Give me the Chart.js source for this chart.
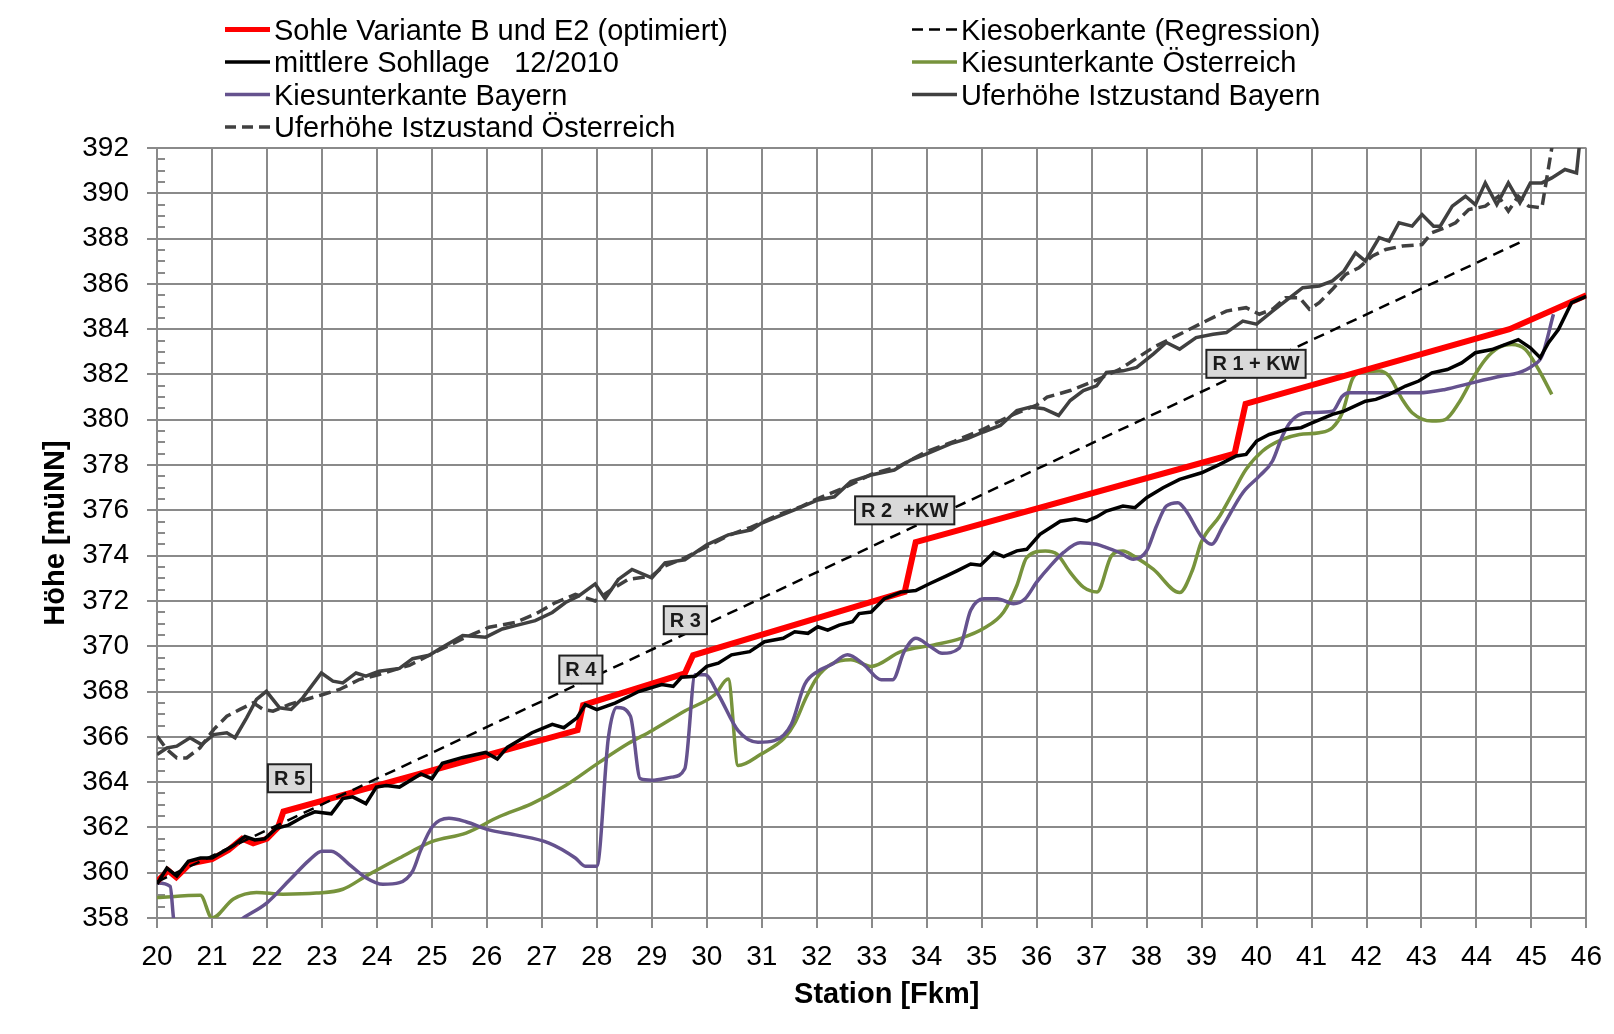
<!DOCTYPE html>
<html lang="de">
<head>
<meta charset="UTF-8" />
<title>Sohllage Fkm 20 - 46</title>
<script src="https://cdn.jsdelivr.net/npm/chart.js"></script>
<style>
  body { margin: 0; background: #fff; }
  #wrap { width: 1614px; height: 1034px; }
</style>
</head>
<body>
<div id="wrap"><canvas id="profil"></canvas></div>
<script>
// Sohle Variante B und E2 (optimiert)
const sohleKm = [20, 20.2, 20.35, 20.6, 21.0, 21.3, 21.55, 21.75, 22.0, 22.2, 22.3, 27.65, 27.75, 29.6, 29.75, 33.6, 33.8, 39.6, 39.8, 44.6, 46];
const sohle = [359.6, 360.1, 359.8, 360.4, 360.6, 361.0, 361.5, 361.3, 361.5, 362.0, 362.7, 366.3, 367.4, 368.8, 369.6, 372.4, 374.6, 378.5, 380.7, 384.0, 385.5];

// mittlere Sohllage 12/2010
const mittelKm = [20.0, 20.18, 20.36, 20.57, 20.79, 21.0, 21.18, 21.39, 21.6, 21.78, 21.96, 22.17, 22.39, 22.66, 22.87, 23.17, 23.38, 23.56, 23.8, 23.99,
  24.17, 24.41, 24.8, 25.0, 25.19, 25.56, 25.98, 26.19, 26.37, 26.52, 26.82, 27.19, 27.4, 27.64, 27.79, 28.0, 28.33, 28.58, 28.76, 29.18,
  29.39, 29.54, 29.79, 30.0, 30.21, 30.45, 30.78, 31.05, 31.39, 31.6, 31.84, 32.02, 32.2, 32.41, 32.65, 32.77, 32.99, 33.23, 33.53, 33.8,
  34.04, 34.37, 34.56, 34.8, 34.98, 35.22, 35.4, 35.64, 35.82, 36.06, 36.43, 36.7, 36.91, 37.09, 37.27, 37.57, 37.79, 38.0, 38.3, 38.6,
  39.0, 39.33, 39.63, 39.81, 40.0, 40.23, 40.53, 40.81, 41.02, 41.38, 41.59, 41.98, 42.17, 42.41, 42.71, 42.95, 43.19, 43.47, 43.73, 43.98,
  44.28, 44.52, 44.76, 44.98, 45.16, 45.31, 45.49, 45.73, 46.0];
const mittel = [359.5, 360.2, 359.85, 360.5, 360.65, 360.65, 360.9, 361.2, 361.6, 361.45, 361.5, 361.96, 362.1, 362.47, 362.69, 362.6, 363.27, 363.35, 363.05, 363.78,
  363.85, 363.78, 364.36, 364.15, 364.83, 365.09, 365.31, 365.02, 365.53, 365.75, 366.18, 366.55, 366.4, 366.84, 367.42, 367.2, 367.49, 367.78, 368.0, 368.31,
  368.23, 368.63, 368.67, 369.11, 369.25, 369.62, 369.76, 370.2, 370.35, 370.64, 370.57, 370.86, 370.71, 370.93, 371.08, 371.44, 371.51, 372.1, 372.39, 372.46,
  372.75, 373.12, 373.34, 373.63, 373.58, 374.14, 373.96, 374.21, 374.28, 374.94, 375.52, 375.62, 375.52, 375.71, 375.97, 376.19, 376.12, 376.56, 377.0, 377.37,
  377.66, 378.03, 378.4, 378.47, 379.06, 379.35, 379.57, 379.65, 379.87, 380.24, 380.38, 380.82, 380.9, 381.12, 381.49, 381.71, 382.07, 382.22, 382.51, 382.96,
  383.1, 383.32, 383.54, 383.18, 382.74, 383.4, 383.98, 385.17, 385.45];

// Kiesoberkante (Regression)
const kiesObKm = [20, 44.85];
const kiesOb = [359.6, 387.9];

// Kiesunterkante Österreich
const kiesUnAtKm = [20.0, 20.79, 21.0, 21.39, 21.81, 22.29, 22.9, 23.38, 23.8, 24.41, 25.01, 25.62, 26.22, 26.82, 27.43, 28.03, 28.57, 29.0, 29.6, 30.15,
  30.39, 30.57, 30.99, 31.42, 31.6, 31.8, 32.0, 32.26, 32.62, 32.99, 33.53, 34.13, 34.62, 35.04, 35.4, 35.64, 35.82, 36.16, 36.37, 36.61,
  36.85, 37.1, 37.36, 37.57, 37.76, 38.12, 38.6, 38.84, 38.99, 39.33, 39.57, 39.81, 40.11, 40.47, 40.78, 41.14, 41.38, 41.56, 41.74, 41.86,
  42.23, 42.41, 42.65, 42.83, 43.19, 43.43, 43.68, 43.92, 44.16, 44.4, 44.64, 44.89, 45.13, 45.37];
const kiesUnAt = [358.9, 359.0, 358.0, 358.84, 359.13, 359.05, 359.1, 359.27, 359.85, 360.65, 361.38, 361.75, 362.47, 363.05, 363.85, 364.85, 365.7, 366.27, 367.14, 367.87,
  368.55, 364.73, 365.24, 365.97, 366.6, 367.7, 368.6, 369.2, 369.4, 369.11, 369.76, 370.06, 370.35, 370.79, 371.51, 372.68, 373.92, 374.21, 374.07, 373.26,
  372.61, 372.4, 373.99, 374.21, 373.99, 373.4, 372.37, 373.4, 374.57, 375.75, 376.78, 377.81, 378.62, 379.13, 379.35, 379.43, 379.65, 380.31, 381.78, 382.07,
  382.15, 381.93, 380.9, 380.31, 379.94, 380.01, 380.75, 381.78, 382.66, 383.18, 383.32, 383.1, 382.22, 381.12];

// Kiesunterkante Bayern
const kiesUnByKm = [20.0, 20.24, 20.3, 20.45, 21.0, 21.57, 22.0, 22.42, 22.78, 23.0, 23.17, 23.5, 23.8, 24.11, 24.41, 24.65, 24.8, 25.01, 25.31, 25.62,
  26.04, 26.52, 27.13, 27.61, 27.79, 28.0, 28.21, 28.36, 28.61, 28.79, 29.0, 29.36, 29.6, 29.79, 29.97, 30.21, 30.57, 30.93, 31.23, 31.54,
  31.78, 32.02, 32.26, 32.56, 32.86, 33.17, 33.38, 33.59, 33.8, 34.07, 34.28, 34.59, 34.8, 35.04, 35.28, 35.58, 35.79, 36.0, 36.25, 36.49,
  36.79, 37.09, 37.27, 37.51, 37.76, 38.0, 38.18, 38.36, 38.57, 38.72, 38.99, 39.18, 39.39, 39.75, 40.05, 40.29, 40.47, 40.63, 40.9, 41.38,
  41.56, 41.68, 42.35, 42.95, 43.43, 43.92, 44.46, 44.76, 45.01, 45.19, 45.4];
const kiesUnBy = [359.55, 359.4, 358.0, 355.5, 357.0, 358.0, 358.67, 359.7, 360.58, 360.95, 360.95, 360.36, 359.78, 359.49, 359.56, 360.07, 361.02, 362.04, 362.4, 362.25,
  361.89, 361.67, 361.31, 360.65, 360.29, 360.29, 365.96, 367.3, 366.92, 364.15, 364.08, 364.22, 364.59, 368.74, 368.74, 367.87, 366.27, 365.76, 365.83, 366.56,
  368.31, 368.89, 369.18, 369.62, 369.18, 368.52, 368.52, 369.76, 370.35, 369.98, 369.69, 369.91, 371.59, 372.1, 372.1, 371.88, 372.1, 372.83, 373.55, 374.14,
  374.57, 374.5, 374.35, 374.13, 373.84, 374.21, 375.31, 376.19, 376.34, 375.97, 374.87, 374.5, 375.31, 376.78, 377.51, 378.18, 379.28, 379.94, 380.31, 380.38,
  381.04, 381.19, 381.19, 381.19, 381.34, 381.63, 381.93, 382.07, 382.37, 382.81, 384.66];

// Uferhöhe Istzustand Bayern
const uferByKm = [20.0, 20.18, 20.36, 20.6, 20.81, 21.03, 21.27, 21.42, 21.63, 21.81, 21.99, 22.23, 22.44, 22.65, 22.99, 23.2, 23.38, 23.62, 23.8, 24.04,
  24.41, 24.65, 24.95, 25.19, 25.56, 25.98, 26.28, 26.52, 26.88, 27.19, 27.43, 27.67, 27.97, 28.15, 28.39, 28.64, 29.0, 29.24, 29.6, 30.0,
  30.39, 30.81, 30.99, 31.29, 31.66, 32.02, 32.32, 32.62, 32.99, 33.41, 33.71, 34.01, 34.44, 34.74, 35.03, 35.34, 35.64, 35.89, 36.13, 36.4,
  36.61, 36.85, 37.09, 37.27, 37.57, 37.82, 38.12, 38.36, 38.6, 38.9, 39.21, 39.45, 39.75, 40.0, 40.29, 40.53, 40.84, 41.14, 41.38, 41.59,
  41.8, 41.98, 42.23, 42.41, 42.59, 42.83, 43.01, 43.22, 43.34, 43.56, 43.8, 43.98, 44.16, 44.37, 44.58, 44.79, 44.98, 45.19, 45.37, 45.61,
  45.82, 45.88, 46.0];
const uferBy = [365.22, 365.51, 365.59, 365.96, 365.66, 366.1, 366.18, 365.96, 366.84, 367.65, 368.01, 367.28, 367.21, 367.72, 368.82, 368.46, 368.38, 368.82, 368.68, 368.9,
  369.02, 369.45, 369.6, 369.96, 370.47, 370.4, 370.76, 370.91, 371.13, 371.49, 371.93, 372.22, 372.75, 372.1, 372.95, 373.39, 373.02, 373.68, 373.82, 374.48,
  374.92, 375.14, 375.43, 375.72, 376.09, 376.46, 376.6, 377.27, 377.56, 377.78, 378.22, 378.51, 378.95, 379.17, 379.46, 379.75, 380.41, 380.56, 380.49, 380.19,
  380.85, 381.29, 381.5, 382.09, 382.16, 382.31, 382.9, 383.41, 383.12, 383.63, 383.78, 383.85, 384.36, 384.22, 384.8, 385.25, 385.83, 385.91, 386.13, 386.57,
  387.37, 387.01, 388.04, 387.89, 388.7, 388.55, 389.06, 388.55, 388.55, 389.43, 389.87, 389.5, 390.46, 389.5, 390.46, 389.58, 390.46, 390.46, 390.68, 391.05,
  390.9, 392.3, 393.5];

// Uferhöhe Istzustand Österreich
const uferAtKm = [20.0, 20.18, 20.36, 20.54, 20.78, 21.03, 21.27, 21.51, 21.75, 21.93, 22.11, 22.41, 22.71, 23.02, 23.32, 23.68, 24.04, 24.59, 25.13, 25.56,
  26.04, 26.52, 26.88, 27.25, 27.61, 27.97, 28.27, 28.57, 29.0, 29.2, 29.6, 30.0, 30.4, 30.8, 31.3, 31.7, 32.0, 32.5, 33.0, 33.5,
  34.0, 34.5, 35.0, 35.5, 36.0, 36.19, 36.61, 37.09, 37.51, 38.12, 38.72, 39.08, 39.45, 39.81, 40.05, 40.29, 40.53, 40.78, 40.96, 41.14,
  41.38, 41.62, 41.86, 42.11, 42.35, 42.65, 43.01, 43.19, 43.43, 43.62, 43.86, 44.16, 44.4, 44.58, 44.76, 44.95, 45.19, 45.28, 45.37, 45.45];
const uferAt = [366.03, 365.44, 365.07, 365.07, 365.51, 366.32, 366.91, 367.21, 367.5, 367.21, 367.13, 367.43, 367.65, 367.87, 368.09, 368.53, 368.75, 369.16, 369.82, 370.33,
  370.84, 371.05, 371.42, 371.93, 372.29, 372.0, 372.51, 372.95, 373.1, 373.5, 373.9, 374.4, 374.9, 375.25, 375.8, 376.15, 376.5, 377.0, 377.6, 377.95,
  378.6, 379.05, 379.55, 380.15, 380.65, 381.0, 381.29, 381.75, 382.23, 383.19, 383.92, 384.36, 384.8, 384.95, 384.66, 384.88, 385.39, 385.39, 384.88, 385.17,
  385.76, 386.42, 386.71, 387.23, 387.52, 387.67, 387.74, 388.26, 388.48, 388.7, 389.28, 389.43, 389.87, 389.21, 389.87, 389.43, 389.36, 390.68, 392.0, 393.5];

// Beschriftungen der Rampen
const rampenText = ['R 5', 'R 4', 'R 3', 'R 2  +KW', 'R 1 + KW'];
const rampenKm = [22.41, 27.71, 29.61, 33.6, 39.99];
const rampenHoehe = [364.17, 368.97, 371.15, 376.0, 382.47];

const FONT = '"Liberation Sans", Arial, sans-serif';
const GRID = '#8a8a8a';

const pts = (xs, ys) => xs.map((v, i) => ({ x: v, y: ys[i] }));

const datasets = [
  { label: 'mittlere Sohllage   12/2010', data: pts(mittelKm, mittel), borderColor: '#000000', borderWidth: 3.5, order: 1 },
  { label: 'Kiesoberkante (Regression)', data: pts(kiesObKm, kiesOb), borderColor: '#000000', borderWidth: 2.5, borderDash: [11, 7], order: 2 },
  { label: 'Sohle Variante B und E2 (optimiert)', data: pts(sohleKm, sohle), borderColor: '#ff0000', borderWidth: 6, order: 3 },
  { label: 'Kiesunterkante Bayern', data: pts(kiesUnByKm, kiesUnBy), borderColor: '#65528e', borderWidth: 3.5, tension: 0.4, cubicInterpolationMode: 'monotone', order: 4 },
  { label: 'Kiesunterkante Österreich', data: pts(kiesUnAtKm, kiesUnAt), borderColor: '#77933c', borderWidth: 3.5, tension: 0.4, cubicInterpolationMode: 'monotone', order: 5 },
  { label: 'Uferhöhe Istzustand Bayern', data: pts(uferByKm, uferBy), borderColor: '#404040', borderWidth: 3.5, order: 6 },
  { label: 'Uferhöhe Istzustand Österreich', data: pts(uferAtKm, uferAt), borderColor: '#404040', borderWidth: 3.5, borderDash: [12, 6], order: 7 }
];

// legend layout: [dataset index, column, row]
const legendOrder = [[2, 0, 0], [0, 0, 1], [3, 0, 2], [6, 0, 3], [1, 1, 0], [4, 1, 1], [5, 1, 2]];

const extras = {
  id: 'extras',
  beforeDatasetsDraw(chart) {
    const { ctx, scales: { x, y } } = chart;
    ctx.save();
    ctx.strokeStyle = GRID;
    ctx.lineWidth = 2;
    for (let v = 358; v <= 392; v += 0.5) {
      const py = Math.round(y.getPixelForValue(v));
      ctx.beginPath();
      ctx.moveTo(x.left, py);
      ctx.lineTo(x.left + 8, py);
      ctx.stroke();
    }
    ctx.restore();
  },
  afterDatasetsDraw(chart) {
    const { ctx, scales: { x, y } } = chart;
    ctx.save();
    ctx.font = 'bold 20px ' + FONT;
    ctx.textAlign = 'center';
    ctx.textBaseline = 'middle';
    rampenText.forEach((t, i) => {
      const cx = x.getPixelForValue(rampenKm[i]);
      const cy = y.getPixelForValue(rampenHoehe[i]);
      const w = ctx.measureText(t).width + 12, h = 28;
      ctx.fillStyle = '#d9d9d9';
      ctx.fillRect(cx - w / 2, cy - h / 2, w, h);
      ctx.strokeStyle = '#222';
      ctx.lineWidth = 2;
      ctx.strokeRect(cx - w / 2, cy - h / 2, w, h);
      ctx.fillStyle = '#1a1a1a';
      ctx.fillText(t, cx, cy + 1);
    });
    ctx.restore();
  },
  afterDraw(chart) {
    const { ctx, chartArea } = chart;
    const colX = [225, 912];
    const baseY = [39.5, 72, 104.5, 137];
    ctx.save();
    ctx.font = '29px ' + FONT;
    ctx.textBaseline = 'alphabetic';
    ctx.fillStyle = '#000';
    legendOrder.forEach(([di, col, row]) => {
      const ds = chart.data.datasets[di];
      const x0 = colX[col], yb = baseY[row], yl = yb - 10;
      ctx.beginPath();
      ctx.strokeStyle = ds.borderColor;
      ctx.lineWidth = Math.min(ds.borderWidth, 5);
      ctx.setLineDash(ds.borderDash ? [11, 6] : []);
      ctx.moveTo(x0, yl);
      ctx.lineTo(x0 + 45, yl);
      ctx.stroke();
      ctx.setLineDash([]);
      ctx.fillText(ds.label, x0 + 49, yb);
    });
    // x axis title, placed a little right of centre as in the original
    ctx.font = 'bold 29px ' + FONT;
    ctx.textAlign = 'center';
    ctx.textBaseline = 'middle';
    ctx.fillText('Station [Fkm]', (chartArea.left + chartArea.right) / 2 + 15, 995);
    ctx.restore();
  }
};

new Chart(document.getElementById('profil'), {
  type: 'line',
  data: { datasets: datasets },
  plugins: [extras],
  options: {
    responsive: true,
    maintainAspectRatio: false,
    animation: false,
    layout: { padding: { top: 148, right: 23, bottom: 0, left: 0 } },
    elements: { point: { radius: 0 }, line: { tension: 0, fill: false } },
    plugins: { legend: { display: false }, tooltip: { enabled: false } },
    scales: {
      x: {
        type: 'linear', min: 20, max: 46,
        afterFit: s => { s.height = 116; },
        ticks: { stepSize: 1, color: '#000', padding: 12, font: { family: FONT, size: 28 } },
        grid: { color: GRID, lineWidth: 2, tickLength: 10 },
        border: { color: GRID, width: 2 },
        title: { display: false }
      },
      y: {
        min: 358, max: 392,
        afterFit: s => { s.width = 157; },
        ticks: { stepSize: 2, color: '#000', padding: 18, font: { family: FONT, size: 28 } },
        grid: { color: GRID, lineWidth: 2, tickLength: 10 },
        border: { color: GRID, width: 2 },
        title: { display: true, text: 'Höhe [müNN]', color: '#000', padding: { top: 39, bottom: 0 }, font: { family: FONT, size: 29, weight: 'bold' } }
      }
    }
  }
});
</script>
</body>
</html>
